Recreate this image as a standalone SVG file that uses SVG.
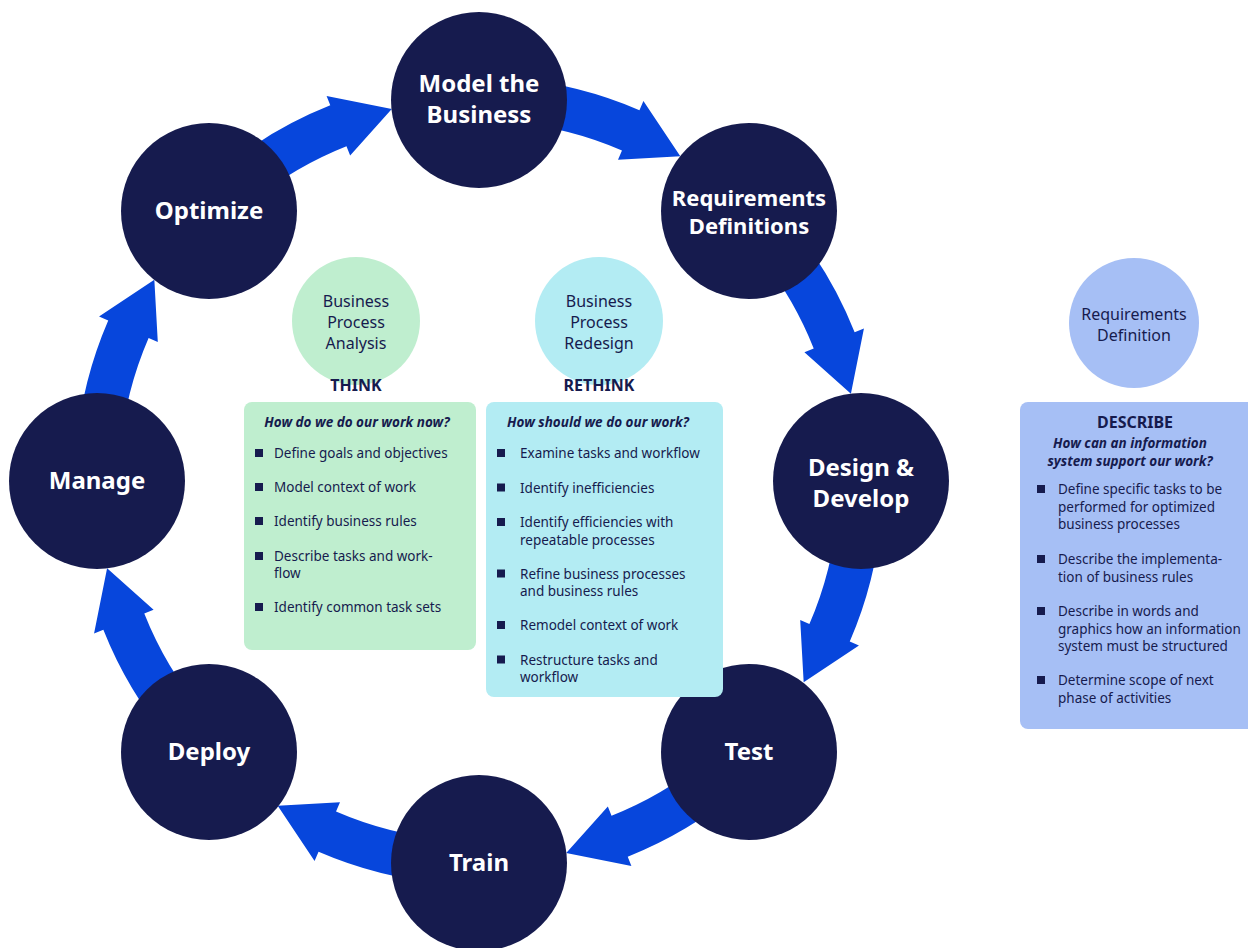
<svg xmlns="http://www.w3.org/2000/svg" xmlns:xlink="http://www.w3.org/1999/xlink" width="1248" height="948" viewBox="0 0 1248 948">
<style>
.big{fill:#161b4e}
.lbl{font-family:"Noto Sans","Liberation Sans",sans-serif;font-weight:700;fill:#ffffff;text-anchor:middle}
.sm{font-family:"Noto Sans","Liberation Sans",sans-serif;fill:#161b4e;font-size:13.5px}
.ttl{font-family:"Noto Sans","Liberation Sans",sans-serif;fill:#161b4e;font-size:13.5px;font-weight:700;font-style:italic;text-anchor:middle}
.hd{font-family:"Noto Sans","Liberation Sans",sans-serif;fill:#161b4e;font-size:16px;font-weight:700;text-anchor:middle}
.cl{font-family:"Noto Sans","Liberation Sans",sans-serif;fill:#161b4e;font-size:16px;text-anchor:middle}
.bul{fill:#161b4e}
.arr{fill:#0746dc}
</style>
<defs>
<path id="arrow" class="arr" d="M 219.31 171.52 A 404 404 0 0 1 330.28 105.37 L 326.60 96.07 L 391.77 109.09 L 350.16 155.58 L 346.48 146.28 A 360 360 0 0 0 247.60 205.22 Z"/>
</defs>
<rect width="1248" height="948" fill="#ffffff"/>
<g id="connectors">
<use xlink:href="#arrow" href="#arrow"/>
<use xlink:href="#arrow" href="#arrow" transform="rotate(45 479 481)"/>
<use xlink:href="#arrow" href="#arrow" transform="rotate(90 479 481)"/>
<use xlink:href="#arrow" href="#arrow" transform="rotate(135 479 481)"/>
<use xlink:href="#arrow" href="#arrow" transform="rotate(180 479 481)"/>
<use xlink:href="#arrow" href="#arrow" transform="rotate(225 479 481)"/>
<use xlink:href="#arrow" href="#arrow" transform="rotate(270 479 481)"/>
<use xlink:href="#arrow" href="#arrow" transform="rotate(315 479 481)"/>
</g>
<g id="model">
<circle class="big" cx="479" cy="100" r="88"/>
<text class="lbl" font-size="24" x="479" y="92">Model the</text>
<text class="lbl" font-size="24" x="479" y="123">Business</text>
</g>
<g id="requirements">
<circle class="big" cx="749" cy="211" r="88"/>
<text class="lbl" font-size="22" x="749" y="206">Requirements</text>
<text class="lbl" font-size="22" x="749" y="234">Definitions</text>
</g>
<g id="design">
<circle class="big" cx="861" cy="481" r="88"/>
<text class="lbl" font-size="24" x="861" y="476">Design &amp;</text>
<text class="lbl" font-size="24" x="861" y="507">Develop</text>
</g>
<g id="test">
<circle class="big" cx="749" cy="752" r="88"/>
<text class="lbl" font-size="24" x="749" y="760">Test</text>
</g>
<g id="train">
<circle class="big" cx="479" cy="863" r="88"/>
<text class="lbl" font-size="24" x="479" y="871">Train</text>
</g>
<g id="deploy">
<circle class="big" cx="209" cy="752" r="88"/>
<text class="lbl" font-size="24" x="209" y="760">Deploy</text>
</g>
<g id="manage">
<circle class="big" cx="97" cy="481" r="88"/>
<text class="lbl" font-size="24" x="97" y="489">Manage</text>
</g>
<g id="optimize">
<circle class="big" cx="209" cy="211" r="88"/>
<text class="lbl" font-size="24" x="209" y="219">Optimize</text>
</g>
<g id="analysis">
<circle cx="356" cy="321" r="64" fill="#bfeecf"/>
<text class="cl" x="356" y="307">Business</text>
<text class="cl" x="356" y="328">Process</text>
<text class="cl" x="356" y="349">Analysis</text>
<text class="hd" x="356" y="391">THINK</text>
</g>
<g id="think-box">
<rect x="244" y="402" width="232" height="248" rx="8" fill="#bfeecf"/>
<text class="ttl" x="357" y="427">How do we do our work now?</text>
<rect class="bul" x="255" y="449" width="8" height="8"/>
<text class="sm" x="274" y="458">Define goals and objectives</text>
<rect class="bul" x="255" y="483" width="8" height="8"/>
<text class="sm" x="274" y="492">Model context of work</text>
<rect class="bul" x="255" y="517" width="8" height="8"/>
<text class="sm" x="274" y="526">Identify business rules</text>
<rect class="bul" x="255" y="552" width="8" height="8"/>
<text class="sm" x="274" y="561">Describe tasks and work-</text>
<text class="sm" x="274" y="578">flow</text>
<rect class="bul" x="255" y="603" width="8" height="8"/>
<text class="sm" x="274" y="612">Identify common task sets</text>
</g>
<g id="redesign">
<circle cx="599" cy="321" r="64" fill="#b3ecf3"/>
<text class="cl" x="599" y="307">Business</text>
<text class="cl" x="599" y="328">Process</text>
<text class="cl" x="599" y="349">Redesign</text>
<text class="hd" x="599" y="391">RETHINK</text>
</g>
<g id="rethink-box">
<rect x="486" y="402" width="237" height="295" rx="8" fill="#b3ecf3"/>
<text class="ttl" x="598" y="427">How should we do our work?</text>
<rect class="bul" x="497" y="449" width="8" height="8"/>
<text class="sm" x="520" y="458">Examine tasks and workflow</text>
<rect class="bul" x="497" y="483.5" width="8" height="8"/>
<text class="sm" x="520" y="492.5">Identify inefficiencies</text>
<rect class="bul" x="497" y="518" width="8" height="8"/>
<text class="sm" x="520" y="527">Identify efficiencies with</text>
<text class="sm" x="520" y="544.5">repeatable processes</text>
<rect class="bul" x="497" y="569.5" width="8" height="8"/>
<text class="sm" x="520" y="578.5">Refine business processes</text>
<text class="sm" x="520" y="596">and business rules</text>
<rect class="bul" x="497" y="621" width="8" height="8"/>
<text class="sm" x="520" y="630">Remodel context of work</text>
<rect class="bul" x="497" y="655.5" width="8" height="8"/>
<text class="sm" x="520" y="664.5">Restructure tasks and</text>
<text class="sm" x="520" y="682">workflow</text>
</g>
<g id="req-def">
<circle cx="1134" cy="323" r="65" fill="#a6bff5"/>
<text class="cl" x="1134" y="320">Requirements</text>
<text class="cl" x="1134" y="341">Definition</text>
</g>
<g id="describe-box">
<rect x="1020" y="402" width="236" height="327" rx="8" fill="#a6bff5"/>
<text class="hd" x="1135" y="428">DESCRIBE</text>
<text class="ttl" x="1130" y="448">How can an information</text>
<text class="ttl" x="1130" y="466">system support our work?</text>
<rect class="bul" x="1037" y="485" width="8" height="8"/>
<text class="sm" x="1058" y="494">Define specific tasks to be</text>
<text class="sm" x="1058" y="511.5">performed for optimized</text>
<text class="sm" x="1058" y="529">business processes</text>
<rect class="bul" x="1037" y="555" width="8" height="8"/>
<text class="sm" x="1058" y="564">Describe the implementa-</text>
<text class="sm" x="1058" y="581.5">tion of business rules</text>
<rect class="bul" x="1037" y="607" width="8" height="8"/>
<text class="sm" x="1058" y="616">Describe in words and</text>
<text class="sm" x="1058" y="633.5">graphics how an information</text>
<text class="sm" x="1058" y="651">system must be structured</text>
<rect class="bul" x="1037" y="676" width="8" height="8"/>
<text class="sm" x="1058" y="685">Determine scope of next</text>
<text class="sm" x="1058" y="702.5">phase of activities</text>
</g>
</svg>
